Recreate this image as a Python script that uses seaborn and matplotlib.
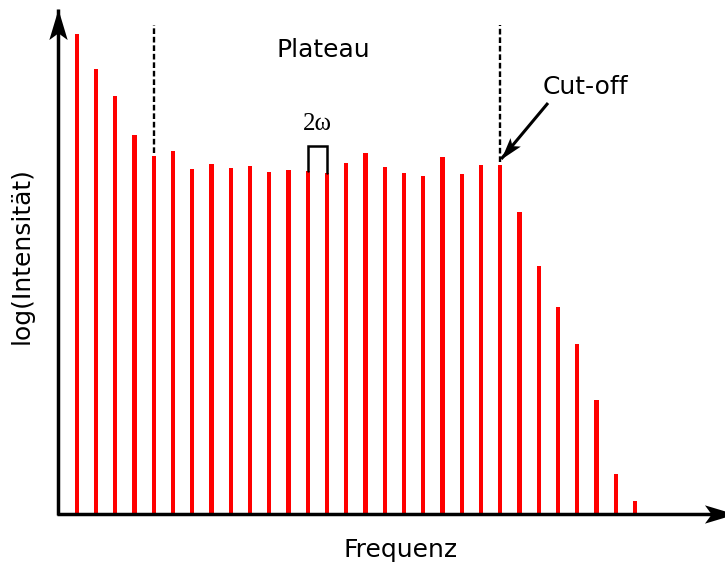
import numpy as np
import pandas as pd
import matplotlib
matplotlib.use("Agg")
import matplotlib.pyplot as plt
from matplotlib.path import Path
from matplotlib.markers import MarkerStyle
from matplotlib.transforms import Affine2D
import seaborn as sns

# Harmonic orders and their (log) intensities
harmonics = list(range(1, 31))
intensity = [480, 445, 418, 379, 358, 363, 345, 350, 346, 348,
             342, 344, 343, 341, 351, 361, 347, 341, 338, 357,
             340, 349, 349, 302, 248, 207, 170, 114, 40, 13]

plateau_start = 5
cutoff = 23
bracket_pair = (13, 14)

sns.set_theme(style="white")
plt.rcParams["font.family"] = ["DejaVu Sans"]
plt.rcParams["text.color"] = "black"

fig = plt.figure(figsize=(7.25, 5.63), dpi=100)
ax = fig.add_axes([0, 0, 1, 1])

df = pd.DataFrame({"order": harmonics, "intensity": intensity})
sns.barplot(data=df, x="order", y="intensity", native_scale=True, orient="x",
            width=0.21, color="#ff0000", saturation=1, linewidth=0,
            errorbar=None, ax=ax)

# one x unit = 19.25 px, one y unit = 1 px
ax.set_xlim(-2.987, 34.675)
ax.set_ylim(-49, 514)
ax.axis("off")

HEAD = Path([(0, 0), (-0.3, -1), (0, -0.78), (0.3, -1), (0, 0)],
            [Path.MOVETO, Path.LINETO, Path.LINETO, Path.LINETO, Path.CLOSEPOLY])


def arrow(x0, y0, x1, y1, lw, head_pt, angle):
    ax.plot([x0, x1], [y0, y1], color="black", lw=lw, solid_capstyle="butt",
            clip_on=False, zorder=4)
    m = MarkerStyle(HEAD, transform=Affine2D().rotate_deg(angle))
    ax.plot([x1], [y1], marker=m, markersize=head_pt * 2, color="black",
            markeredgewidth=0, clip_on=False, zorder=5)


# axes with arrow heads
arrow(0, -1, 0, 505, 2.5, 22, 0)
arrow(-0.05, 0, 35.2, 0, 2.5, 22, -90)

# dashed markers for plateau start and cut-off
for k in (plateau_start, cutoff):
    h = intensity[k - 1]
    ax.plot([k, k], [h + 3, 489], color="black", lw=1.7,
            linestyle=(0, (2.4, 1.2)), zorder=3)

ax.text(13.8, 457, "Plateau", fontsize=18, ha="center", va="baseline")
ax.text(27.4, 420, "Cut-off", fontsize=18, ha="center", va="baseline")

# arrow pointing at the cut-off harmonic
ang = np.degrees(np.arctan2(-57, -47)) - 90
arrow(25.48, 411, 23.05, 355, 2.2, 16, ang)

# 2ω spacing bracket
a, b = bracket_pair
ax.plot([a, a, b, b], [intensity[a - 1], 368, 368, intensity[b - 1]],
        color="black", lw=1.8, solid_joinstyle="miter", zorder=3)
ax.text((a + b) / 2, 384, "2ω", fontsize=18, ha="center", va="baseline",
        family=["Liberation Serif", "DejaVu Serif"])

ax.text(17.8, -43, "Frequenz", fontsize=18, ha="center", va="baseline")
ax.text(-1.84, 258, "log(Intensität)", fontsize=18, ha="center", va="center",
        rotation=90)

fig.savefig("out.png", dpi=100)
